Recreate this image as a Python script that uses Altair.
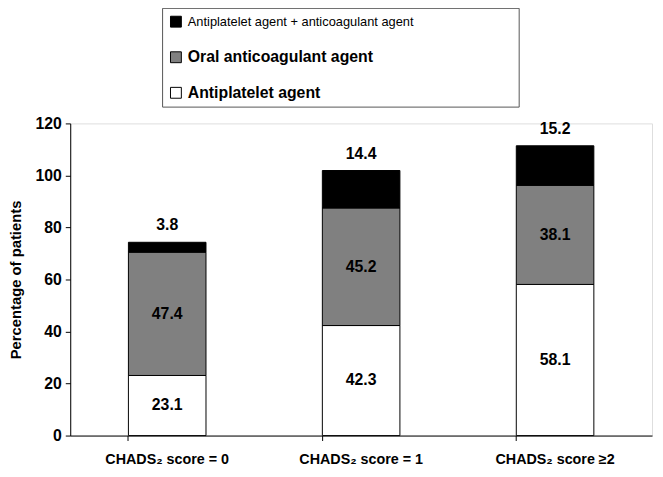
import altair as alt
import pandas as pd

categories = ["CHADS₂ score = 0", "CHADS₂ score = 1", "CHADS₂ score ≥2"]
series = ["Antiplatelet agent + anticoagulant agent", "Oral anticoagulant agent", "Antiplatelet agent"]
antiplatelet = [23.1, 42.3, 58.1]
oral = [47.4, 45.2, 38.1]
combo = [3.8, 14.4, 15.2]
colors = ["#000000", "#808080", "#ffffff"]

rows = []
for i, c in enumerate(categories):
    rows.append({"category": c, "series": series[2], "value": antiplatelet[i], "order": 0})
    rows.append({"category": c, "series": series[1], "value": oral[i], "order": 1})
    rows.append({"category": c, "series": series[0], "value": combo[i], "order": 2})
df = pd.DataFrame(rows)

FONT = "Liberation Sans"
first = series[0]

x_enc = alt.X(
    "category:N",
    sort=categories,
    scale=alt.Scale(paddingInner=0.6, paddingOuter=0.3),
    axis=alt.Axis(
        title=None, labelAngle=0, bandPosition=0, labelFont=FONT, labelFontSize=14.5,
        labelFontWeight="bold", labelColor="black", domainColor="black", tickColor="black",
        tickSize=5, labelPadding=12, grid=False,
    ),
)

pad = "\u2800" * 10

bars = alt.Chart(df).mark_bar(stroke="black", strokeWidth=1).encode(
    x=x_enc,
    y=alt.Y(
        "value:Q",
        stack="zero",
        scale=alt.Scale(domain=[0, 120], nice=False),
        axis=alt.Axis(
            title="Percentage of patients", values=[0, 20, 40, 60, 80, 100, 120],
            labelFont=FONT, labelFontSize=16, labelFontWeight="bold", labelColor="black",
            titleFont=FONT, titleFontSize=15, titleFontWeight="bold", titleColor="black",
            titlePadding=12, domainColor="black", tickColor="black", tickSize=5,
            labelPadding=4, grid=False,
        ),
    ),
    color=alt.Color(
        "series:N",
        scale=alt.Scale(domain=series, range=colors),
        legend=alt.Legend(
            title=None, orient="none", legendX=93, legendY=-117,
            symbolType="square", symbolSize=121, symbolStrokeColor="black", symbolStrokeWidth=1,
            labelFont=FONT, labelColor="black", labelLimit=600,
            labelFontSize=alt.ExprRef(expr=f"datum.label == '{first}' ? 13 : 16"),
            labelFontWeight=alt.ExprRef(expr=f"datum.label == '{first}' ? 'normal' : 'bold'"),
            labelExpr=f"datum.label + '{pad}'",
            rowPadding=20, padding=6, strokeColor="#555555", fillColor="white",
            labelOffset=4,
        ),
    ),
    order=alt.Order("order:Q", sort="ascending"),
)

base_lbl = alt.Chart(df).transform_stack(
    stack="value", groupby=["category"], sort=[alt.SortField("order", "ascending")], as_=["y0", "y1"]
).transform_calculate(mid="(datum.y0 + datum.y1) / 2")

mid_labels = base_lbl.transform_filter("datum.order < 2").mark_text(
    font=FONT, fontSize=16, fontWeight="bold", color="black"
).encode(
    x=alt.X("category:N", sort=categories),
    y=alt.Y("mid:Q"),
    text=alt.Text("value:Q", format=".1f"),
)

top_labels = base_lbl.transform_filter("datum.order == 2").mark_text(
    font=FONT, fontSize=16, fontWeight="bold", color="black", dy=-17
).encode(
    x=alt.X("category:N", sort=categories),
    y=alt.Y("y1:Q"),
    text=alt.Text("value:Q", format=".1f"),
)

chart = alt.layer(bars, mid_labels, top_labels).properties(
    width=589, height=316,
    autosize=alt.AutoSizeParams(type="none"),
    padding={"left": 63, "top": 114, "right": 3, "bottom": 31},
).configure_view(stroke=None).configure(background="white")

chart.save("out.html", embed_options={"renderer": "svg", "actions": False})
